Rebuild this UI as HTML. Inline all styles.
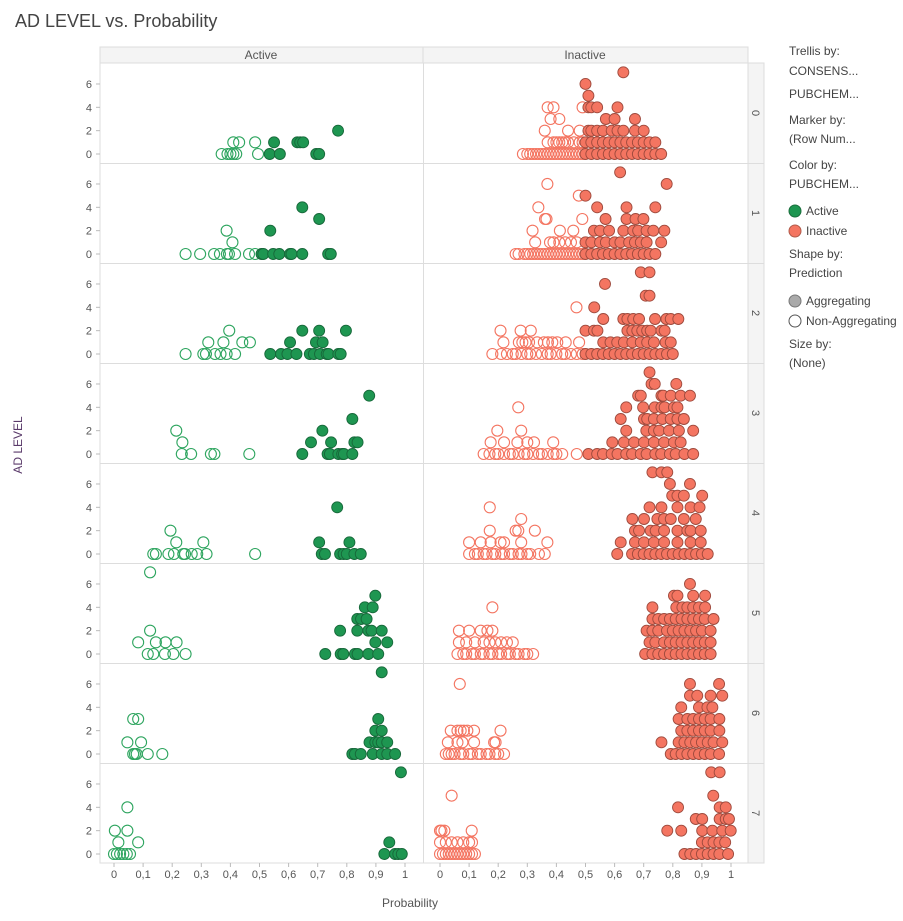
<!DOCTYPE html>
<html><head><meta charset="utf-8"><style>
body{margin:0;background:#fff;font-family:"Liberation Sans",sans-serif;}
svg text{font-family:"Liberation Sans",sans-serif;}
</style></head><body>
<svg id="chart" width="903" height="916" xmlns="http://www.w3.org/2000/svg">
<text x="15" y="27" font-size="18" fill="#444">AD LEVEL vs. Probability</text>
<g>
<rect x="100" y="47" width="323" height="16" fill="#f4f4f4" stroke="#ddd"/>
<rect x="423" y="47" width="325" height="16" fill="#f4f4f4" stroke="#ddd"/>
<text x="261" y="59" font-size="12" fill="#555" text-anchor="middle">Active</text>
<text x="585" y="59" font-size="12" fill="#555" text-anchor="middle">Inactive</text>
</g>
<g id="grid"></g><g id="marks"></g><g id="axes"></g>
<text x="410" y="907" font-size="12" fill="#555" text-anchor="middle">Probability</text>
<text transform="translate(22,445) rotate(-90)" font-size="12" fill="#5a3a6a" text-anchor="middle">AD LEVEL</text>
<g font-size="12" fill="#444">
<text x="789" y="55">Trellis by:</text>
<text x="789" y="75">CONSENS...</text>
<text x="789" y="98">PUBCHEM...</text>
<text x="789" y="124">Marker by:</text>
<text x="789" y="143">(Row Num...</text>
<text x="789" y="169">Color by:</text>
<text x="789" y="188">PUBCHEM...</text>
<circle cx="795" cy="211" r="6" fill="#1e9651" stroke="#1a6e3c"/>
<text x="806" y="215">Active</text>
<circle cx="795" cy="231" r="6" fill="#f47561" stroke="#b05a4a"/>
<text x="806" y="235">Inactive</text>
<text x="789" y="258">Shape by:</text>
<text x="789" y="277">Prediction</text>
<circle cx="795" cy="301" r="6" fill="#aaa" stroke="#777"/>
<text x="806" y="305">Aggregating</text>
<circle cx="795" cy="321" r="6" fill="#fff" stroke="#555"/>
<text x="806" y="325">Non-Aggregating</text>
<text x="789" y="348">Size by:</text>
<text x="789" y="367">(None)</text>
</g>
</svg>
<script>
const rowLabels = [0,1,2,3,4,5,6,7];
const colLabels = ["Active","Inactive"];
const yTicks = [0,2,4,6];
const xTicks = [0,0.1,0.2,0.3,0.4,0.5,0.6,0.7,0.8,0.9,1];
const xTickLabels = ["0","0,1","0,2","0,3","0,4","0,5","0,6","0,7","0,8","0,9","1"];
// active panels: index = AD level, values = probabilities
const active0 = [[0.37,0.39,0.40,0.41,0.42,0.495,0.535,0.57,0.695,0.705],[0.41,0.43,0.485,0.55,0.63,0.64,0.65],[0.77]];
const active1 = [[0.246,0.296,0.344,0.364,0.388,0.395,0.416,0.464,0.485,0.507,0.513,0.547,0.568,0.605,0.61,0.647,0.736,0.745],[0.407],[0.387,0.537],[0.705],[0.647]];
const active2 = [[0.246,0.307,0.316,0.347,0.366,0.387,0.416,0.537,0.574,0.596,0.627,0.673,0.687,0.708,0.731,0.737,0.771,0.779],[0.324,0.376,0.441,0.467,0.605,0.694,0.717],[0.396,0.647,0.705,0.797]];
const active3 = [[0.233,0.265,0.333,0.345,0.465,0.647,0.734,0.742,0.771,0.784,0.79,0.819],[0.235,0.677,0.746,0.826,0.837],[0.214,0.716],[0.819],[],[0.877]];
const active4 = [[0.135,0.144,0.187,0.206,0.238,0.244,0.267,0.286,0.318,0.485,0.714,0.725,0.777,0.789,0.8,0.826,0.848],[0.214,0.307,0.705,0.809],[0.194],[],[0.767]];
const active5 = [[0.116,0.135,0.175,0.204,0.246,0.726,0.779,0.788,0.828,0.837,0.874,0.908],[0.083,0.144,0.177,0.215,0.898,0.939],[0.124,0.777,0.836,0.874,0.885,0.92],[0.836,0.849,0.868],[0.862,0.889],[0.898],[],[0.124]];
const active6 = [[0.066,0.072,0.078,0.116,0.166,0.819,0.828,0.848,0.889,0.92,0.939,0.966],[0.046,0.093,0.878,0.898,0.908,0.92,0.939],[0.898,0.92],[0.066,0.083,0.908],[],[],[],[0.92]];
const active7 = [[0.0,0.01,0.021,0.032,0.044,0.055,0.929,0.966,0.977,0.989],[0.015,0.083,0.946],[0.003,0.046],[],[0.046],[],[],[0.986]];
// inactive panels
const inactive0 = [[0.285,0.3,0.31,0.32,0.33,0.34,0.35,0.36,0.37,0.38,0.39,0.4,0.41,0.42,0.43,0.44,0.45,0.46,0.47,0.48,0.49,0.5,0.52,0.54,0.56,0.58,0.6,0.62,0.64,0.66,0.68,0.7,0.72,0.74,0.76],
 [0.37,0.39,0.4,0.41,0.42,0.43,0.44,0.46,0.48,0.49,0.5,0.52,0.54,0.56,0.58,0.6,0.62,0.64,0.66,0.68,0.7,0.72,0.74],
 [0.36,0.44,0.48,0.51,0.52,0.54,0.56,0.59,0.61,0.63,0.67,0.70],[0.38,0.41,0.57,0.6,0.67],[0.37,0.39,0.49,0.51,0.52,0.54,0.61],[0.51],[0.5],[0.63]];
const inactive1 = [[0.26,0.27,0.29,0.3,0.31,0.32,0.33,0.34,0.35,0.36,0.37,0.38,0.39,0.4,0.41,0.42,0.43,0.44,0.45,0.46,0.47,0.48,0.49,0.5,0.52,0.54,0.56,0.58,0.6,0.62,0.64,0.66,0.68,0.7,0.72,0.74],
 [0.327,0.378,0.39,0.41,0.43,0.45,0.47,0.5,0.52,0.55,0.57,0.6,0.62,0.65,0.67,0.69,0.71,0.76],
 [0.318,0.412,0.458,0.529,0.55,0.581,0.63,0.664,0.681,0.71,0.733,0.771],[0.361,0.366,0.489,0.569,0.641,0.672,0.699],[0.338,0.54,0.641,0.74],[0.477,0.5],[0.369,0.779],[0.619]];
const inactive2 = [[0.18,0.21,0.23,0.25,0.26,0.28,0.3,0.31,0.33,0.35,0.37,0.38,0.4,0.42,0.43,0.45,0.47,0.49,0.5,0.52,0.54,0.56,0.58,0.6,0.62,0.64,0.66,0.68,0.7,0.72,0.74,0.76,0.78,0.8],
 [0.218,0.271,0.283,0.294,0.306,0.334,0.357,0.371,0.386,0.403,0.432,0.478,0.561,0.586,0.609,0.632,0.661,0.69,0.712,0.735,0.775,0.793],
 [0.208,0.277,0.312,0.5,0.529,0.541,0.644,0.661,0.678,0.695,0.712,0.724,0.761,0.772],
 [0.561,0.63,0.644,0.664,0.684,0.739,0.778,0.793,0.819],[0.469,0.53],[0.707,0.72],[0.567],[0.69,0.72]];
const inactive3 = [[0.15,0.17,0.19,0.2,0.22,0.24,0.25,0.27,0.29,0.3,0.32,0.34,0.35,0.37,0.39,0.4,0.42,0.47,0.51,0.54,0.56,0.59,0.61,0.64,0.66,0.69,0.71,0.74,0.76,0.79,0.81,0.84,0.87],
 [0.174,0.22,0.266,0.3,0.323,0.389,0.592,0.632,0.667,0.701,0.735,0.77,0.804,0.827],
 [0.197,0.279,0.64,0.709,0.735,0.753,0.787,0.821,0.87],[0.621,0.701,0.712,0.735,0.764,0.793,0.816,0.838],
 [0.269,0.64,0.698,0.738,0.761,0.772,0.804,0.816],[0.681,0.69,0.761,0.767,0.793,0.827,0.859],[0.727,0.738,0.812],[0.72]];
const inactive4 = [[0.1,0.12,0.13,0.15,0.16,0.18,0.19,0.21,0.22,0.24,0.25,0.27,0.28,0.3,0.31,0.34,0.36,0.609,0.66,0.68,0.7,0.72,0.74,0.76,0.78,0.8,0.82,0.84,0.86,0.88,0.9,0.92],
 [0.1,0.14,0.174,0.208,0.22,0.279,0.369,0.621,0.67,0.701,0.735,0.77,0.816,0.861,0.896],
 [0.171,0.26,0.269,0.326,0.67,0.684,0.724,0.741,0.77,0.816,0.85,0.861,0.896],[0.279,0.661,0.701,0.747,0.77,0.793,0.838,0.879],
 [0.171,0.72,0.761,0.816,0.861,0.892],[0.798,0.816,0.838,0.901],[0.79,0.859],[0.73,0.761,0.781]];
const inactive5 = [[0.06,0.08,0.09,0.11,0.12,0.14,0.15,0.17,0.18,0.2,0.21,0.23,0.24,0.26,0.27,0.29,0.3,0.32,0.705,0.73,0.75,0.77,0.79,0.81,0.83,0.85,0.87,0.89,0.91,0.93],
 [0.065,0.09,0.12,0.15,0.17,0.19,0.21,0.23,0.25,0.72,0.74,0.77,0.79,0.81,0.83,0.85,0.87,0.89,0.91,0.93],
 [0.065,0.1,0.14,0.163,0.18,0.71,0.73,0.75,0.78,0.8,0.82,0.84,0.86,0.88,0.9,0.93],
 [0.73,0.75,0.77,0.79,0.81,0.83,0.85,0.87,0.89,0.91,0.94],[0.18,0.73,0.812,0.833,0.85,0.87,0.89,0.911],[0.804,0.816,0.87,0.911],[0.859]];
const inactive6 = [[0.02,0.03,0.04,0.05,0.07,0.08,0.1,0.11,0.13,0.14,0.16,0.17,0.19,0.2,0.22,0.793,0.81,0.83,0.85,0.87,0.89,0.91,0.93,0.959],
 [0.027,0.06,0.077,0.117,0.186,0.191,0.761,0.82,0.84,0.86,0.88,0.9,0.92,0.94,0.97],
 [0.037,0.06,0.071,0.082,0.094,0.117,0.208,0.829,0.85,0.87,0.89,0.91,0.93,0.96],
 [0.82,0.85,0.87,0.89,0.91,0.93,0.96],[0.829,0.89,0.919,0.936],[0.859,0.884,0.93,0.97],[0.068,0.859,0.959]];
const inactive7 = [[0.0,0.01,0.02,0.03,0.04,0.05,0.06,0.07,0.08,0.09,0.1,0.11,0.12,0.84,0.86,0.88,0.9,0.92,0.94,0.96,0.99],
 [0.0,0.02,0.04,0.06,0.08,0.1,0.11,0.9,0.92,0.94,0.96,0.98],
 [0.0,0.005,0.015,0.109,0.781,0.829,0.901,0.936,0.97,0.999],[0.879,0.901,0.961,0.982,0.993],[0.818,0.961,0.982],[0.04,0.939],[],[0.932,0.961]];
const activeRows = [active0,active1,active2,active3,active4,active5,active6,active7];
const inactiveRows = [inactive0,inactive1,inactive2,inactive3,inactive4,inactive5,inactive6,inactive7];

const NS="http://www.w3.org/2000/svg";
function mk(tag,attrs,parent){const e=document.createElementNS(NS,tag);for(const k in attrs)e.setAttribute(k,attrs[k]);parent.appendChild(e);return e;}
const colX0=[114,440], colW=291;
function xScale(col,v){return colX0[col]+v*colW;}
function yScale(row,lvl){return 154+row*100-lvl*11.67;}
const grid=document.getElementById('grid'), marks=document.getElementById('marks'), axes=document.getElementById('axes');
// frame
mk('rect',{x:100,y:63,width:648,height:800,fill:'none',stroke:'#ddd'},grid);
mk('line',{x1:423.5,y1:63,x2:423.5,y2:863,stroke:'#ddd'},grid);
mk('rect',{x:748,y:63,width:16,height:800,fill:'#f4f4f4',stroke:'#ddd'},grid);
rowLabels.forEach((r,i)=>{
  if(i>0){const l=mk('line',{x1:100,y1:63+i*100+0.5,x2:764,y2:63+i*100+0.5,stroke:'#ddd'},grid);
  
  }
  const t=mk('text',{transform:`translate(752,${113+i*100}) rotate(90)`,'font-size':11,fill:'#555','text-anchor':'middle'},grid);
  t.textContent=r;
  
  
  yTicks.forEach(v=>{
    const y=yScale(i,v);
    mk('line',{x1:96,y1:y,x2:100,y2:y,stroke:'#bbb'},axes);
    const tt=mk('text',{x:92,y:y+4,'font-size':11,fill:'#555','text-anchor':'end'},axes);
    tt.textContent=v;
    
    
  });
});
[0,1].forEach(c=>{
  xTicks.forEach((v,k)=>{
    const x=xScale(c,v);
    mk('line',{x1:x,y1:863,x2:x,y2:867,stroke:'#bbb'},axes);
    const t=mk('text',{x:x,y:878,'font-size':11,fill:'#555','text-anchor':'middle'},axes);
    t.textContent=xTickLabels[k];
    
    
  });
});
function drawPanel(col,row,levels){
  const colors=col===0?{fill:'#1e9651',stroke:'#17683a',hollow:'#2ea55f'}:{fill:'#f47561',stroke:'#9e4a3d',hollow:'#f47561'};
  const pts=[];
  levels.forEach((arr,lvl)=>arr.forEach(p=>pts.push([p,lvl])));
  pts.sort((a,b)=>(a[0]>=0.5)-(b[0]>=0.5));
  pts.forEach(([p,lvl])=>{
    const agg=p>=0.5;
    const c=mk('circle',{cx:xScale(col,p),cy:yScale(row,lvl),r:5.5,
      fill:agg?colors.fill:'none',stroke:agg?colors.stroke:colors.hollow,'stroke-width':agg?0.9:1.1},marks);
    
    
  });
}
activeRows.forEach((lv,r)=>drawPanel(0,r,lv));
inactiveRows.forEach((lv,r)=>drawPanel(1,r,lv));
</script>
</body></html>
